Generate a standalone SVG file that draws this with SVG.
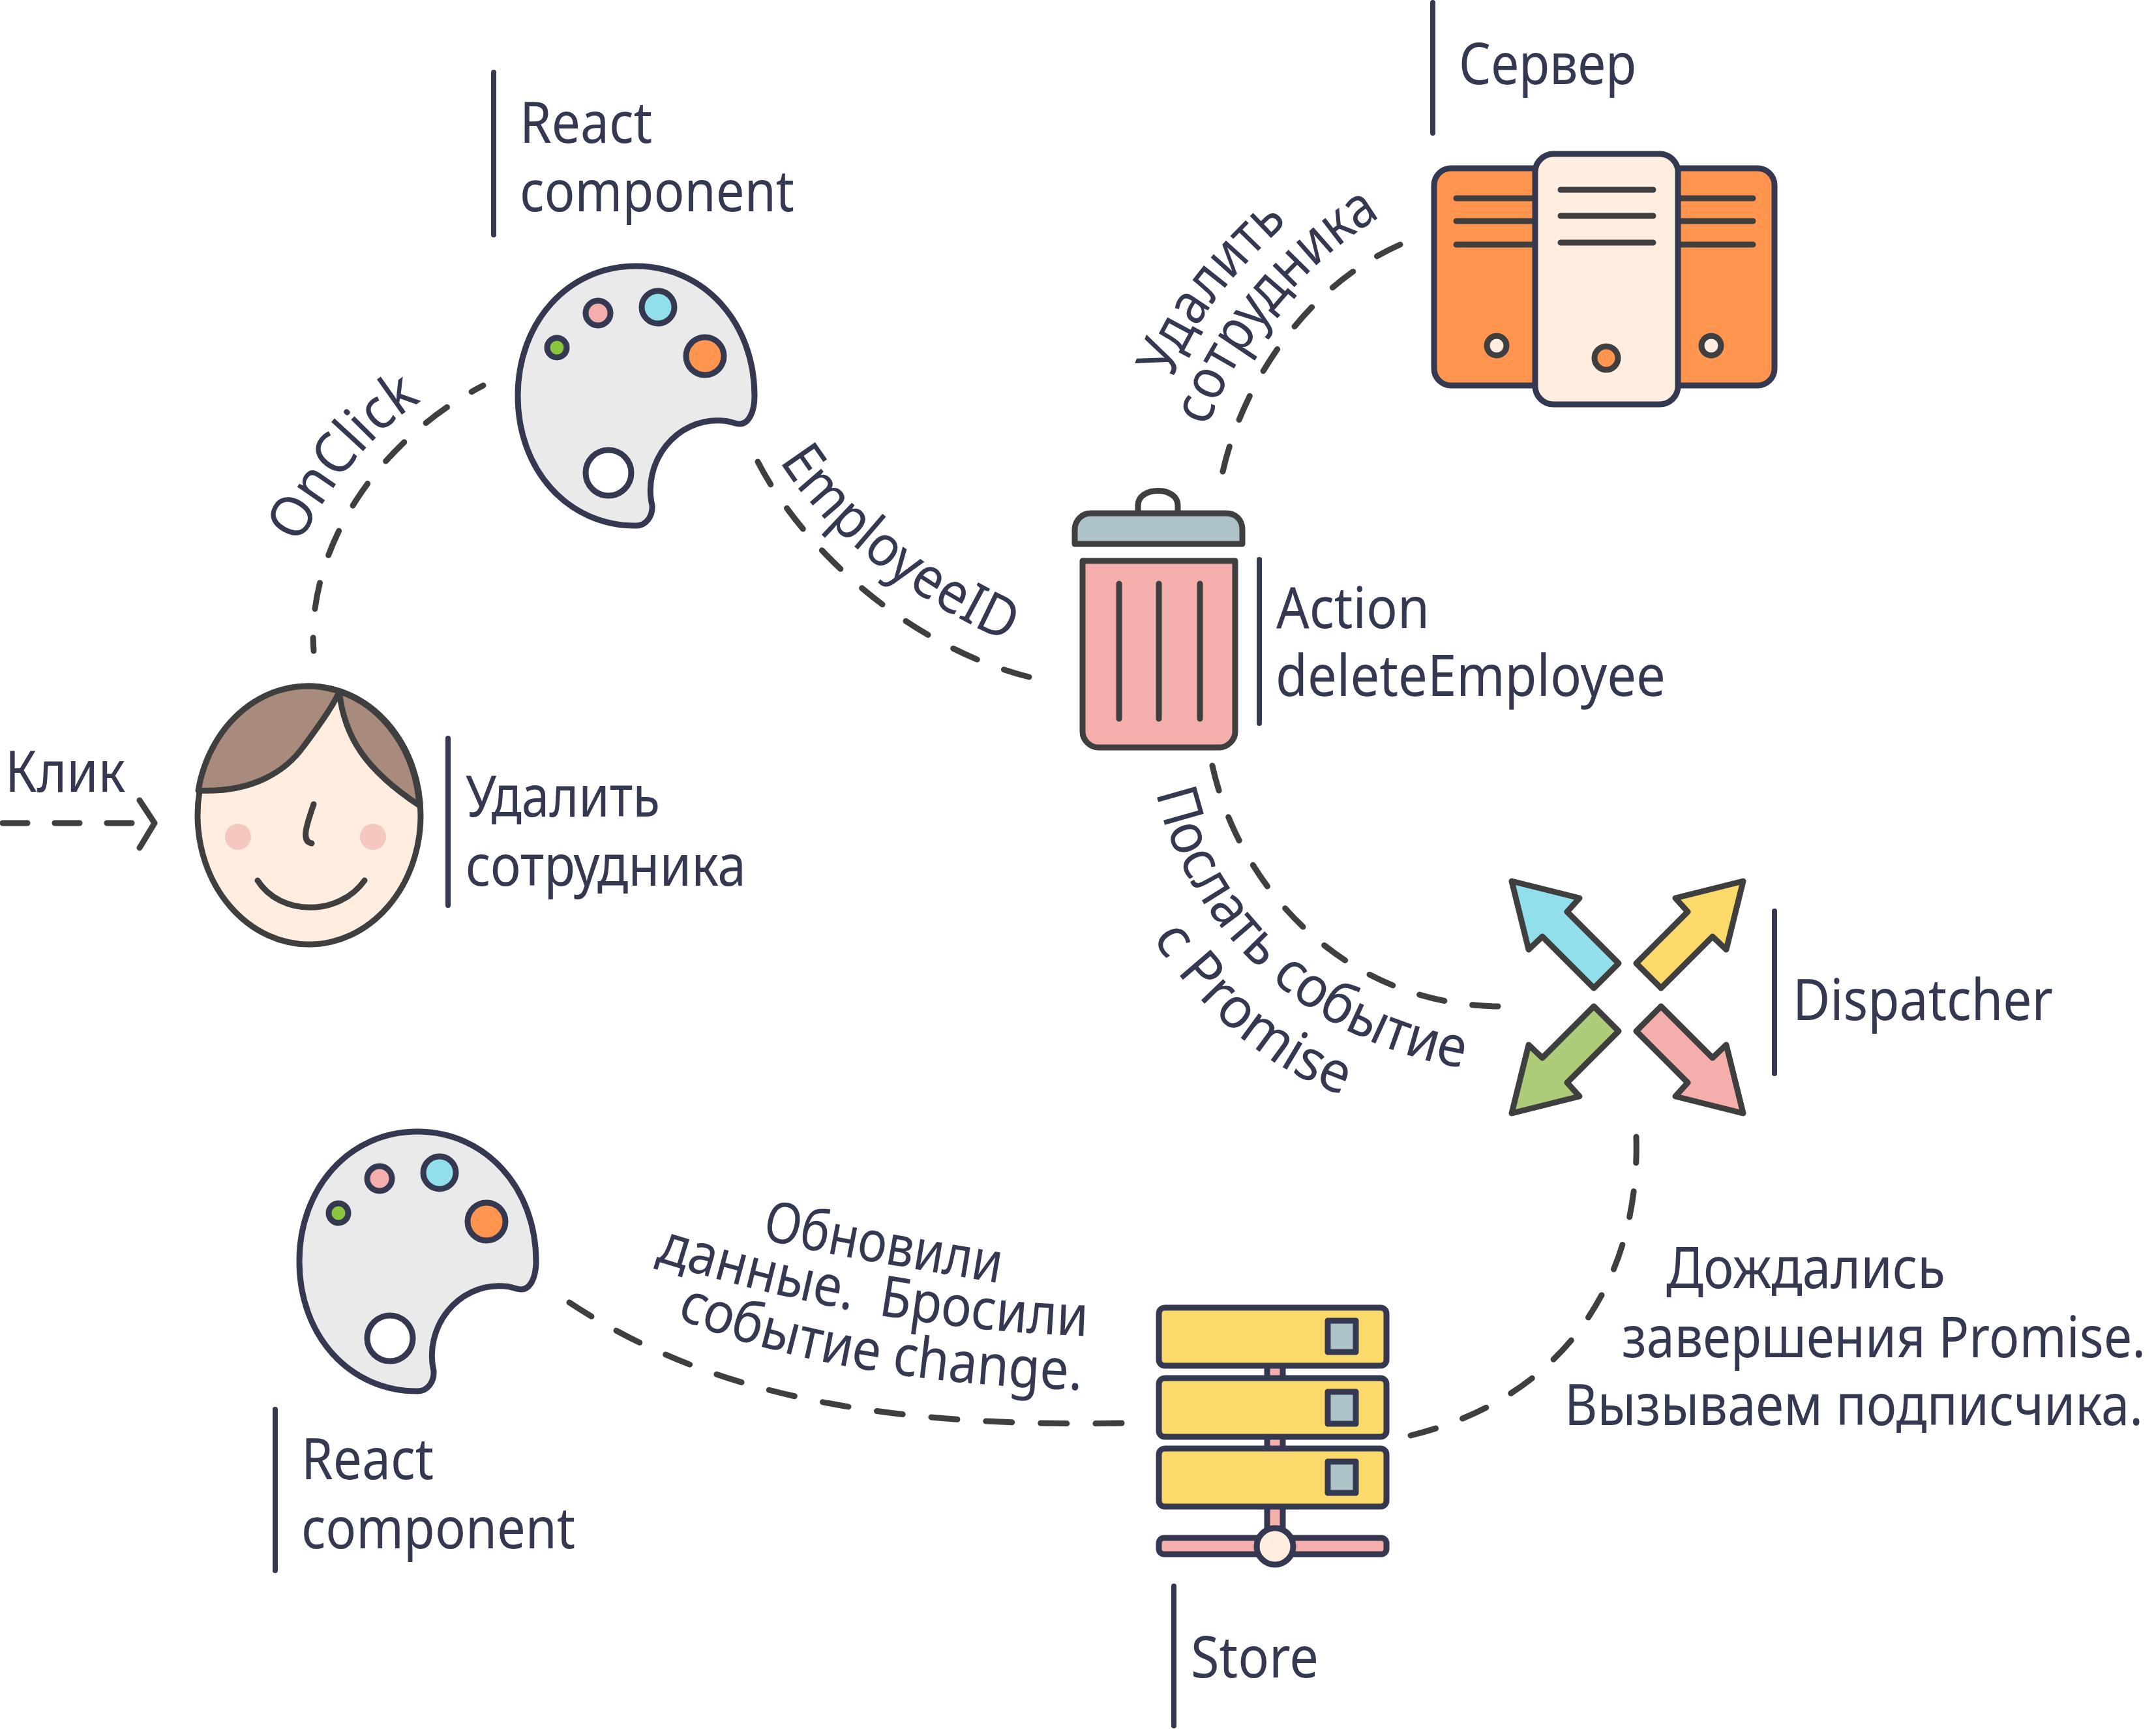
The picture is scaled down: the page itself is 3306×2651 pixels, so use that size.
<svg xmlns="http://www.w3.org/2000/svg" width="3306" height="2651" viewBox="0 0 3306 2651">
<style>
text{font-family:"Noto Sans","Open Sans",sans-serif;font-size:87px;fill:#343850;white-space:pre}
.bar{stroke:#343850;stroke-width:8;stroke-linecap:round;fill:none}
.n{stroke:#343850;stroke-width:9;stroke-linejoin:round}
.d{stroke:#3f3f3f;stroke-width:9;stroke-linejoin:round;stroke-linecap:round}
.l{fill:none}
.conn{fill:none;stroke:#3f3f3f;stroke-width:9;stroke-linecap:round;stroke-dasharray:41 45}
</style>
<defs>
<path id="p-onclick" d="M460 835C490 770 560 670 642 618L700 582"/>
<path id="p-emp" d="M1195 707C1260 810 1380 910 1545 985L1620 1015"/>
<path id="p-del1" d="M1798 581C1830 490 1890 420 1975 340L2030 290"/>
<path id="p-del2" d="M1853 654C1885 550 1980 420 2105 340L2170 305"/>
<path id="p-send1" d="M1773 1215C1810 1390 1970 1590 2240 1637L2320 1648"/>
<path id="p-send2" d="M1767 1439C1820 1520 1920 1630 2050 1676L2120 1700"/>
<path id="p-upd1" d="M1167 1899C1270 1925 1400 1945 1530 1967L1600 1980"/>
<path id="p-upd2" d="M1005 1933C1200 1995 1420 2040 1660 2048L1740 2050"/>
<path id="p-upd3" d="M1037 2020C1190 2085 1400 2122 1652 2131L1730 2134"/>
<g id="palette">
<path class="n" fill="#eaeaea" d="M975 408C870 408 794 495 794 607C794 720 870 806 975 806C992 806 1001 790 1000 775C985 710 1035 640 1108 645C1120 645 1125 650 1134 650C1148 650 1157 632 1157 607C1157 495 1080 408 975 408Z"/>
<circle class="n" fill="#f4afad" cx="917" cy="480" r="19"/>
<circle class="n" fill="#91dfeb" cx="1009" cy="471" r="25"/>
<circle class="n" fill="#ff954f" cx="1081" cy="546" r="29"/>
<circle class="n" fill="#8cc63f" cx="854" cy="533" r="15"/>
<circle class="n" fill="#fff" cx="933" cy="725" r="35"/>
</g>
</defs>
<g id="connectors">
<path class="conn" style="stroke-dasharray:38 42" d="M4 1262H204"/>
<path class="d l" d="M214 1227L237 1262L214 1300"/>
<path class="conn" pathLength="516" stroke-dashoffset="20.5" d="M481 998C470 850 570 680 741 591"/>
<path class="conn" pathLength="557" d="M1162 708C1230 840 1390 990 1578 1038"/>
<path class="conn" pathLength="471" d="M1875 723C1905 590 2000 440 2147 375"/>
<path class="conn" pathLength="643" d="M1859 1174C1900 1360 2060 1540 2297 1543"/>
<path class="conn" pathLength="643" d="M2509 1743C2515 1950 2410 2140 2163 2201"/>
<path class="conn" pathLength="901" d="M873 1997C1060 2120 1300 2190 1720 2182"/>
</g>
<g id="labels">
<text x="8" y="1214" textLength="184" lengthAdjust="spacingAndGlyphs">Клик</text>
<text><textPath href="#p-onclick" textLength="292" lengthAdjust="spacingAndGlyphs">OnClick</textPath></text>
<text><textPath href="#p-emp" textLength="452" lengthAdjust="spacingAndGlyphs">EmployeeID</textPath></text>
<text><textPath href="#p-del1" textLength="302" lengthAdjust="spacingAndGlyphs">Удалить</textPath></text>
<text><textPath href="#p-del2" textLength="425" lengthAdjust="spacingAndGlyphs">сотрудника</textPath></text>
<text><textPath href="#p-send1" textLength="670" lengthAdjust="spacingAndGlyphs">Послать событие</textPath></text>
<text><textPath href="#p-send2" textLength="385" lengthAdjust="spacingAndGlyphs">с Promise</textPath></text>
<text><textPath href="#p-upd1" textLength="372" lengthAdjust="spacingAndGlyphs">Обновили</textPath></text>
<text><textPath href="#p-upd2" textLength="675" lengthAdjust="spacingAndGlyphs">данные.  Бросили</textPath></text>
<text><textPath href="#p-upd3" textLength="635" lengthAdjust="spacingAndGlyphs">событие change.</textPath></text>
<text x="2555" y="1975" textLength="428" lengthAdjust="spacingAndGlyphs">Дождались</text>
<text x="2487" y="2081" textLength="803" lengthAdjust="spacingAndGlyphs">завершения Promise.</text>
<text x="2399" y="2185" textLength="887" lengthAdjust="spacingAndGlyphs">Вызываем подписчика.</text>
</g>
<g id="face">
<ellipse class="d" fill="#ffeee0" cx="474" cy="1250" rx="171" ry="198"/>
<path class="d" fill="#a98b7e" d="M304 1212C390 1216 440 1180 465 1145C495 1105 515 1075 520 1060A171 198 0 0 0 304 1212Z"/>
<path class="d" fill="#a98b7e" d="M520 1060C528 1130 560 1180 643 1235A171 198 0 0 0 520 1060Z"/>
<ellipse fill="#f4c7c0" cx="365" cy="1283" rx="20" ry="20"/>
<ellipse fill="#f4c7c0" cx="572" cy="1283" rx="20" ry="20"/>
<path class="d l" d="M481 1233C472 1260 460 1290 478 1293"/>
<path class="d l" d="M395 1350C430 1405 520 1405 559 1350"/>
<path class="bar" d="M687 1132V1388"/>
<text x="714" y="1252" textLength="298" lengthAdjust="spacingAndGlyphs">Удалить</text>
<text x="714" y="1358" textLength="430" lengthAdjust="spacingAndGlyphs">сотрудника</text>
</g>
<g id="react1">
<use href="#palette"/>
<path class="bar" d="M757 111V360"/>
<text x="797" y="219" textLength="203" lengthAdjust="spacingAndGlyphs">React</text>
<text x="797" y="324" textLength="421" lengthAdjust="spacingAndGlyphs">component</text>
</g>
<g id="server">
<rect class="n" fill="#ff954f" x="2199" y="258" width="522" height="333" rx="26"/>
<path class="d l" d="M2233 304H2350M2233 339H2350M2233 375H2350M2577 304H2688M2577 339H2688M2577 375H2688"/>
<circle class="d" fill="#ffeee0" cx="2295" cy="530" r="15"/>
<circle class="d" fill="#ffeee0" cx="2624" cy="530" r="15"/>
<rect class="n" fill="#ffeee0" x="2354" y="236" width="219" height="384" rx="28"/>
<path class="d l" d="M2393 291H2535M2393 331H2535M2393 372H2535"/>
<circle class="d" fill="#ff954f" cx="2463" cy="549" r="18"/>
<path class="bar" d="M2197 4V204"/>
<text x="2237" y="129" textLength="272" lengthAdjust="spacingAndGlyphs">Сервер</text>
</g>
<g id="action">
<path class="d" fill="#fff" d="M1745 785V775C1745 745 1806 745 1806 775V785"/>
<path class="d" fill="#adc3c8" d="M1648 834V812C1648 797 1660 787 1672 787H1880C1895 787 1905 797 1905 812V834Z"/>
<path class="d" fill="#f4afad" d="M1660 860H1894V1122C1894 1135 1882 1146 1870 1146H1684C1672 1146 1660 1135 1660 1122Z"/>
<path class="d l" d="M1716 895V1102M1777 895V1102M1840 895V1102"/>
<path class="bar" d="M1931 858V1109"/>
<text x="1957" y="963" textLength="235" lengthAdjust="spacingAndGlyphs">Action</text>
<text x="1956" y="1067" textLength="598" lengthAdjust="spacingAndGlyphs">deleteEmployee</text>
</g>
<g id="dispatcher">
<polygon class="d" fill="#91dfeb" points="2318,1351 2422,1377 2403,1398 2482,1477 2444,1515 2365,1436 2344,1456"/>
<polygon class="d" fill="#fbda6b" points="2673,1351 2569,1377 2588,1398 2509,1477 2547,1515 2626,1436 2647,1456"/>
<polygon class="d" fill="#accc7a" points="2318,1707 2422,1681 2403,1660 2482,1581 2444,1543 2365,1622 2344,1602"/>
<polygon class="d" fill="#f4afad" points="2673,1707 2569,1681 2588,1660 2509,1581 2547,1543 2626,1622 2647,1602"/>
<path class="bar" d="M2721 1397V1646"/>
<text x="2749" y="1564" textLength="399" lengthAdjust="spacingAndGlyphs">Dispatcher</text>
</g>
<g id="store">
<rect class="n" fill="#f4afad" x="1943" y="2090" width="24" height="260"/>
<rect class="n" fill="#f4afad" x="1777" y="2358" width="349" height="25" rx="8"/>
<circle class="n" fill="#ffeee0" cx="1955" cy="2371" r="28"/>
<rect class="n" fill="#fbda6b" x="1777" y="2005" width="349" height="89" rx="9"/>
<rect class="n" fill="#adc3c8" x="2036" y="2025" width="43" height="48"/>
<rect class="n" fill="#fbda6b" x="1777" y="2113" width="349" height="90" rx="9"/>
<rect class="n" fill="#adc3c8" x="2036" y="2134" width="43" height="49"/>
<rect class="n" fill="#fbda6b" x="1777" y="2221" width="349" height="89" rx="9"/>
<rect class="n" fill="#adc3c8" x="2036" y="2241" width="43" height="48"/>
<path class="bar" d="M1800 2432V2646"/>
<text x="1826" y="2572" textLength="196" lengthAdjust="spacingAndGlyphs">Store</text>
</g>
<g id="react2">
<use href="#palette" x="-335" y="1327"/>
<path class="bar" d="M422 2161V2408"/>
<text x="462" y="2268" textLength="203" lengthAdjust="spacingAndGlyphs">React</text>
<text x="462" y="2374" textLength="420" lengthAdjust="spacingAndGlyphs">component</text>
</g>
</svg>
